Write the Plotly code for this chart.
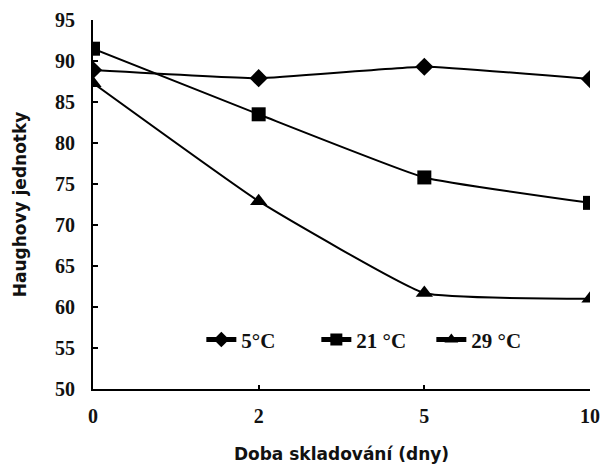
import plotly.graph_objects as go

days = ["0", "2", "5", "10"]
series_names = ["5\u00b0C", "21 \u00b0C", "29 \u00b0C"]
hu_5 = [88.9, 87.9, 89.3, 87.8]
hu_21 = [91.5, 83.5, 75.8, 72.7]
hu_29 = [87.3, 72.9, 61.7, 61.0]
y_ticks = [50, 55, 60, 65, 70, 75, 80, 85, 90, 95]

symbols = ["diamond", "square", "triangle-up"]
sizes = [14, 14, 15]

fig = go.Figure()
for name, vals, sym, sz in zip(series_names, [hu_5, hu_21, hu_29], symbols, sizes):
    fig.add_trace(go.Scatter(
        x=days, y=vals, name=name, mode="lines+markers",
        line=dict(color="black", width=2, shape="spline", smoothing=0.35),
        marker=dict(symbol=sym, size=sz, color="black"),
    ))

fig.update_layout(
    width=605, height=465,
    margin=dict(l=93, r=15, t=20, b=76, autoexpand=False),
    paper_bgcolor="white", plot_bgcolor="white",
    showlegend=True,
    legend=dict(
        orientation="h", x=0.218, y=0.133, xanchor="left", yanchor="middle",
        bgcolor="rgba(0,0,0,0)", itemsizing="constant",
        entrywidth=70, entrywidthmode="pixels",
        font=dict(family="Liberation Serif", size=21, color="#111", weight="bold"),
        traceorder="normal",
    ),
    font=dict(family="Liberation Serif", color="#111"),
)

fig.update_xaxes(
    type="category", range=[0, 3], automargin=False,
    showline=True, linecolor="black", linewidth=2,
    ticks="inside", ticklen=4, tickwidth=1.5, tickcolor="black",
    showgrid=False, zeroline=False,
    tickfont=dict(family="Liberation Serif", size=20, color="#111", weight="bold"),
    ticklabelstandoff=8,
    title=dict(text="Doba skladování (dny)", standoff=22,
               font=dict(family="DejaVu Sans", size=17, color="#111", weight="bold")),
)
fig.update_yaxes(
    range=[50, 95], tickvals=y_ticks, automargin=False,
    showline=True, linecolor="black", linewidth=2,
    ticks="inside", ticklen=5, tickwidth=1.5, tickcolor="black",
    showgrid=False, zeroline=False,
    tickfont=dict(family="Liberation Serif", size=20, color="#111", weight="bold"),
    ticklabelstandoff=12,
    title=dict(text="Haughovy jednotky", standoff=24,
               font=dict(family="DejaVu Sans", size=17, color="#111", weight="bold")),
)

fig.write_html("out.html")
